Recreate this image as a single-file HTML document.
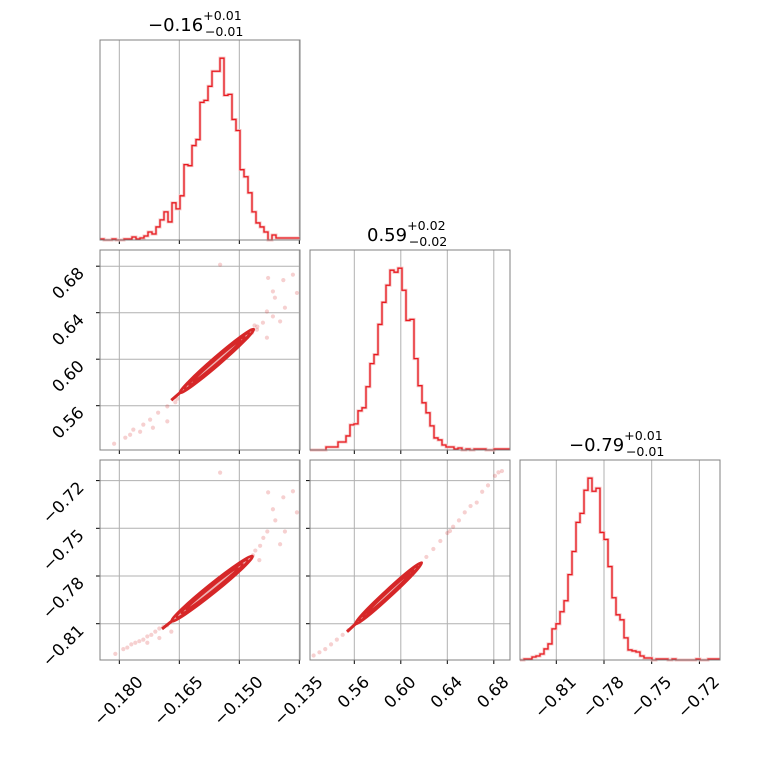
<!DOCTYPE html>
<html><head><meta charset="utf-8"><style>
html,body{margin:0;padding:0;background:#fff;}
svg{display:block;font-family:"DejaVu Sans","Liberation Sans",sans-serif;}
</style></head><body>
<svg id="fig" width="760" height="760" viewBox="0 0 760 760" xmlns="http://www.w3.org/2000/svg">
<rect x="0" y="0" width="760" height="760" fill="#fff"/>
<g id="layer"></g>
<text x="148" y="31" font-size="18">−0.16<tspan font-size="12.6" dy="-11">+0.01</tspan><tspan font-size="12.6" dx="-37" dy="16">−0.01</tspan></text>
<text x="367" y="241" font-size="18">0.59<tspan font-size="12.6" dy="-11">+0.02</tspan><tspan font-size="12.6" dx="-37" dy="16">−0.02</tspan></text>
<text x="569" y="451" font-size="18">−0.79<tspan font-size="12.6" dy="-11">+0.01</tspan><tspan font-size="12.6" dx="-37" dy="16">−0.01</tspan></text>
</svg>
<script>
// ---- data ----
const hist1Counts = [1,0,0,1,0,0,1,1,3,1,2,4,8,6,13,20,28,18,37,31,44,75,74,94,100,137,139,153,168,168,181,144,145,120,109,70,63,47,28,17,13,8,0,5,2,2,2,2,2,2];
const hist2Counts = [0,0,0,0,3,3,3,8,8,14,25,26,39,42,63,86,95,125,147,164,179,177,181,159,129,130,91,64,47,37,24,12,10,5,3,3,1,2,0,1,0,1,1,1,0,0,1,1,1,1];
const hist3Counts = [0,1,1,3,4,6,11,16,31,36,48,59,85,108,137,146,169,181,168,171,127,120,93,62,45,40,22,10,9,8,4,2,2,0,1,1,1,0,1,0,0,0,0,0,1,0,0,1,1,1];
const param1Range = [-0.18483, -0.13483];
const param2Range = [0.52189, 0.69393];
const param3Range = [-0.83283, -0.70704];
const param1Ticks = [-0.180, -0.165, -0.150, -0.135];
const param1TickLabels = ["−0.180","−0.165","−0.150","−0.135"];
const param2Ticks = [0.56, 0.60, 0.64, 0.68];
const param2TickLabels = ["0.56","0.60","0.64","0.68"];
const param3Ticks = [-0.81, -0.78, -0.75, -0.72];
const param3TickLabels = ["−0.81","−0.78","−0.75","−0.72"];
const scatter12X = [-0.1813,-0.1785,-0.1765,-0.174,-0.1723,-0.1703,-0.168,-0.1716,-0.168,-0.1748,-0.1773,-0.1428,-0.139,-0.1366,-0.1416,-0.1411,-0.1386,-0.1356,-0.1431,-0.1416,-0.1398,-0.1431,-0.1456,-0.1441,-0.1468,-0.1548,-0.148,-0.1455,-0.1660,-0.1655,-0.1470,-0.1462];
const scatter12Y = [0.5273,0.5325,0.5394,0.5437,0.548,0.554,0.5594,0.541,0.5465,0.5376,0.535,0.6699,0.668,0.6727,0.6583,0.6529,0.6443,0.657,0.641,0.6368,0.6325,0.6185,0.6254,0.6314,0.6228,0.6813,0.619,0.628,0.5630,0.5660,0.6250,0.6290];
const scatter13X = [-0.181,-0.179,-0.178,-0.177,-0.176,-0.175,-0.174,-0.173,-0.172,-0.171,-0.170,-0.169,-0.168,-0.173,-0.170,-0.167,-0.1428,-0.139,-0.1366,-0.1356,-0.1416,-0.1386,-0.1398,-0.143,-0.1448,-0.1466,-0.1548,-0.141,-0.144,-0.146,-0.145];
const scatter13Y = [-0.829,-0.826,-0.825,-0.823,-0.822,-0.821,-0.820,-0.818,-0.817,-0.815,-0.813,-0.812,-0.811,-0.822,-0.819,-0.815,-0.7274,-0.7305,-0.7267,-0.740,-0.738,-0.752,-0.760,-0.752,-0.761,-0.767,-0.715,-0.745,-0.756,-0.764,-0.770];
const scatter23X = [0.525,0.530,0.535,0.540,0.545,0.550,0.555,0.622,0.628,0.634,0.640,0.6423,0.645,0.650,0.655,0.660,0.6653,0.670,0.675,0.681,0.687,0.684];
const scatter23Y = [-0.830,-0.828,-0.826,-0.823,-0.820,-0.817,-0.814,-0.768,-0.763,-0.758,-0.753,-0.7517,-0.749,-0.745,-0.740,-0.736,-0.7338,-0.727,-0.723,-0.717,-0.714,-0.7148];
const contour12Ends = [-0.1648,0.5712,-0.1464,0.6258];
const contour13Ends = [-0.1669,-0.8084,-0.1467,-0.7675];
const contour23Ends = [0.5606,-0.8104,0.6180,-0.7716];
const contourLevels = [1.0, 0.8, 0.6, 0.4];

// ---- helpers ----
const NS = "http://www.w3.org/2000/svg";
const layer = document.getElementById('layer');
const S = 200;
function px(c){return 100+210*c;}
function mk(tag, attrs, parent){const e=document.createElementNS(NS,tag);for(const k in attrs)e.setAttribute(k,attrs[k]);(parent||layer).appendChild(e);return e;}
function scale(r, a, b){return v => a + (v-r[0])/(r[1]-r[0])*(b-a);}
const ranges=[param1Range,param2Range,param3Range];
const ticks=[param1Ticks,param2Ticks,param3Ticks];
const tickLabels=[param1TickLabels,param2TickLabels,param3TickLabels];
function xs(c){return scale(ranges[c], px(c), px(c)+S);}
function rowY0(r){return 40+210*r;}
function ysr(r){return scale(ranges[r], rowY0(r)+S, rowY0(r));}

function panelFrame(r,c,hgrid){
  const g=mk('g',{});
  
  
  const x0=px(c), y0=rowY0(r), sx=xs(c);
  ticks[c].forEach(t=>{const X=sx(t); if(X>=x0-0.5&&X<=x0+S+0.5){const l=mk('line',{x1:X,x2:X,y1:y0,y2:y0+S,stroke:'#b0b0b0','stroke-width':1},g);
    const tk=mk('line',{x1:X,x2:X,y1:y0+S,y2:y0+S+4,stroke:'#000','stroke-width':1},g);}});
  if(hgrid){const sy=ysr(r);ticks[r].forEach(t=>{const Y=sy(t);const l=mk('line',{x1:x0,x2:x0+S,y1:Y,y2:Y,stroke:'#b0b0b0','stroke-width':1},g);
    const tk=mk('line',{x1:x0-4,x2:x0,y1:Y,y2:Y,stroke:'#000','stroke-width':1},g);});}
  return g;
}
function border(r,c){const b=mk('rect',{x:px(c),y:rowY0(r),width:S,height:S,fill:'none',stroke:'#808080','stroke-width':1});}

function hist(k, counts){
  const g=panelFrame(k,k,false);
  const x0=px(k), y0=rowY0(k);
  const mx=Math.max(...counts)*1.1;
  const n=counts.length, bw=S/n;
  let d='';
  counts.forEach((v,i)=>{const Y=y0+S-v/mx*S; const Xa=x0+i*bw, Xb=x0+(i+1)*bw; d+=(i===0?'M':'L')+Xa+' '+Y+' L'+Xb+' '+Y+' ';});
  const halo=mk('path',{d:d,fill:'none',stroke:'#f6c6c6','stroke-width':3},g);
  
  
  const p=mk('path',{d:d,fill:'none',stroke:'#e8191f','stroke-width':1.3},g);
  
  
  border(k,k);
}
function twoD(r,c,SX,SY,ends,hw){
  const g=panelFrame(r,c,true);
  const sx=xs(c), sy=ysr(r);
  SX.forEach((v,i)=>{const pt=mk('circle',{cx:sx(v),cy:sy(SY[i]),r:2.1,fill:'rgba(214,39,40,0.22)'},g);
    
    });
  const ax=sx(ends[0]), ay=sy(ends[1]), bx=sx(ends[2]), by=sy(ends[3]);
  const cx=(ax+bx)/2, cy=(ay+by)/2, L=Math.hypot(bx-ax,by-ay)/2, ang=Math.atan2(by-ay,bx-ax)*180/Math.PI;
  const tl=mk('line',{x1:ax,y1:ay,x2:ax-(bx-ax)*0.12,y2:ay-(by-ay)*0.12,stroke:'#d62728','stroke-width':3},g);
  
  
  contourLevels.forEach((lv,i)=>{
    const e=mk('ellipse',{cx:cx,cy:cy,rx:L*(0.4+0.6*lv),ry:hw*lv,transform:'rotate('+ang+' '+cx+' '+cy+')',fill:i===0?'#eeb3b3':'none',stroke:'#d62728','stroke-width':i===0?2.6:1.8},g);
    
    
  });
  border(r,c);
}
hist(0,hist1Counts);
hist(1,hist2Counts);
hist(2,hist3Counts);
twoD(1,0,scatter12X,scatter12Y,contour12Ends,4);
twoD(2,0,scatter13X,scatter13Y,contour13Ends,4.5);
twoD(2,1,scatter23X,scatter23Y,contour23Ends,3.5);

function xLabels(c){
  const sx=xs(c);
  ticks[c].forEach((t,i)=>{const X=sx(t);
    const tx=mk('text',{'font-size':16.5,'text-anchor':'end'});
    tx.textContent=tickLabels[c][i];
    
    
    const L=tx.getComputedTextLength();
    const ex=X+L*0.354+3, ey=675+8;
    tx.setAttribute('x',ex);tx.setAttribute('y',ey);
    tx.setAttribute('transform','rotate(-45 '+ex+' '+ey+')');});
}
function yLabels(r){
  const sy=ysr(r);
  ticks[r].forEach((t,i)=>{const Y=sy(t);
    const tx=mk('text',{'font-size':16.5,'text-anchor':'end',x:85,y:Y+8,transform:'rotate(-45 85 '+(Y+8)+')'});
    tx.textContent=tickLabels[r][i];
    
    });
}
xLabels(0);xLabels(1);xLabels(2);
yLabels(1);yLabels(2);
</script>
</body></html>
